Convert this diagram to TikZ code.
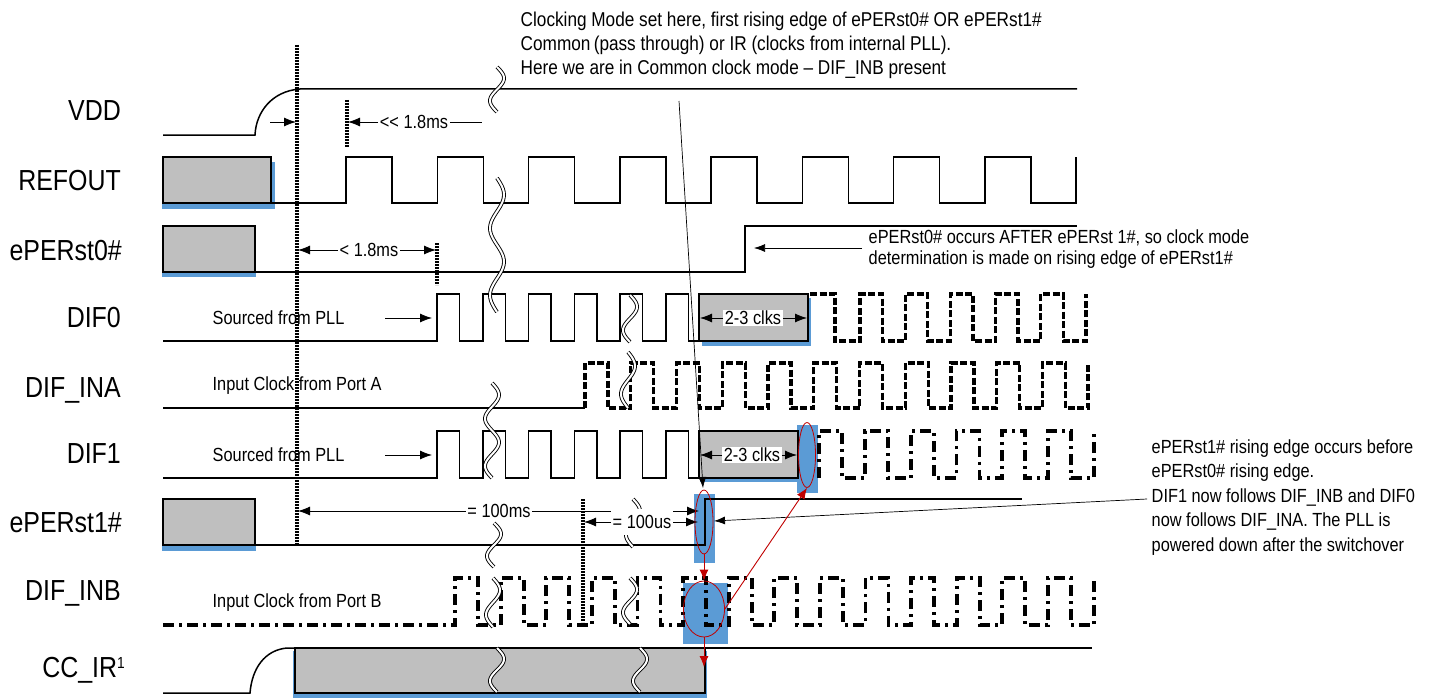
\documentclass[tikz,border=0pt]{standalone}
\usepackage{fontspec}
\setmainfont{Liberation Sans}[FakeStretch=0.86]
\usetikzlibrary{arrows.meta,shapes.geometric}
\definecolor{boxgray}{HTML}{BFBFBF}
\definecolor{hlblue}{HTML}{5B9BD5}
\definecolor{hlred}{HTML}{C00000}
\tikzset{
 sig/.style={line width=1.5pt, line join=miter},
 dsig/.style={line width=3.3pt, dash pattern=on 7pt off 2.5pt},
 ddsig/.style={line width=3.8pt, dash pattern=on 11pt off 5pt on 3pt off 5pt},
 vdot/.style={line width=3.4pt, dash pattern=on 2.3pt off 0.7pt},
 dim/.style={line width=0.8pt, -{Latex[length=12pt,width=9pt]}},
 thinln/.style={line width=0.8pt},
 ptr/.style={line width=0.7pt, -{Latex[length=11pt,width=8pt]}},
 redarr/.style={hlred, line width=0.9pt, -{Latex[length=11pt,width=9pt]}},
 lbl/.style={font=\fontsize{29}{34}\selectfont, anchor=base east, inner sep=0pt},
 txt/.style={font=\fontsize{19}{24}\selectfont, inner sep=1.5pt},
 wv/.style={draw=black, line width=0.9pt, double=white, double distance=2pt},
 graybox/.style={fill=boxgray, draw=black, line width=1.2pt},
 bluebox/.style={fill=hlblue, draw=none},
 hlell/.style={ellipse, draw=hlred, line width=0.8pt, inner sep=0pt},
}
\newcommand\wavybreak[4]{%
 \draw[wv] plot[domain=0:1, samples=50, smooth] ({#1+7*sin(360*#4*\x)}, {#2+(#3-#2)*\x});}
\begin{document}
\begin{tikzpicture}[x=1pt,y=-1pt]
\useasboundingbox (0,0) rectangle (1439,698);

% ---------- labels ----------
\node[lbl] (lvdd) at (121,121) {VDD};
\node[lbl] (lref) at (121,190) {REFOUT};
\node[lbl] (lp0) at (122,260) {ePERst0\#};
\node[lbl] (ldif0) at (121,327) {DIF0};
\node[lbl] (lina) at (121,397) {DIF\_INA};
\node[lbl] (ldif1) at (121,463) {DIF1};
\node[lbl] (lp1) at (122,532) {ePERst1\#};
\node[lbl] (linb) at (121,600) {DIF\_INB};
\node[lbl] (lcc) at (125,677) {CC\_IR{\fontsize{16}{16}\selectfont\raisebox{9pt}{1}}};

% ---------- highlight rectangles (behind waveforms) ----------
\fill[bluebox] (694,494) rectangle (715,563);
\fill[bluebox] (683,583) rectangle (728,644);
\fill[bluebox] (797,425) rectangle (818,493);

% ---------- boxes (gray with blue shadow) ----------
\fill[bluebox] (162,162) rectangle (275,209);
\draw[graybox] (163,157) rectangle (271,203);
\fill[bluebox] (162,229) rectangle (256,277);
\draw[graybox] (163,226) rectangle (255,272);
\fill[bluebox] (162,503) rectangle (256,551);
\draw[graybox] (163,499) rectangle (255,545);
\fill[bluebox] (702,298) rectangle (811,346);
\draw[graybox] (699,294) rectangle (808,341);
\fill[bluebox] (700,435) rectangle (797,482);
\draw[graybox] (699,431) rectangle (798,478);
\fill[bluebox] (293,651) rectangle (707,698);
\draw[graybox] (295,648) rectangle (705,693);

% ---------- waveforms ----------
% VDD
\draw[sig] (163,135) -- (255,135) .. controls (256,112) and (272,91) .. (300,89) -- (1077,89);
% REFOUT
\draw[sig] (271,203) -- (346,203) foreach \k in {0,...,7} { -- ({346+91.25*\k},203) -- ++(0,-46) -- ++(46,0) -- ++(0,46) } -- (1076,203) -- (1076,157);
% ePERst0#
\draw[sig] (255,272) -- (745,272) -- (745,226) -- (1077,226);
% DIF0
\draw[sig] (163,341) foreach \k in {0,...,5} { -- ({437+45.8*\k},341) -- ++(0,-47) -- ++(22.5,0) -- ++(0,47) } -- (699,341);
\draw[dsig] (810,294) -- (835,294) -- (835,341) foreach \k in {0,...,4} { -- ({860+45.2*\k},341) -- ++(0,-47) -- ++(22.5,0) -- ++(0,47) } -- (1086,341) -- (1086,294);
% DIF_INA
\draw[sig] (163,408) -- (585,408);
\draw[dsig] (585,408) foreach \k in {0,...,10} { -- ({585+45.75*\k},408) -- ++(0,-45) -- ++(23,0) -- ++(0,45) } -- (1088,408) -- (1088,363);
% DIF1
\draw[sig] (163,478) foreach \k in {0,...,5} { -- ({437+45.8*\k},478) -- ++(0,-47) -- ++(22.5,0) -- ++(0,47) } -- (699,478);
\draw[ddsig] (819,478) foreach \k in {0,...,5} { -- ({819+45.8*\k},478) -- ++(0,-47) -- ++(23,0) -- ++(0,47) } -- (1094,478) -- (1094,431);
% ePERst1#
\draw[sig] (255,545) -- (705,545) -- (705,499) -- (1022,499);
% DIF_INB
\draw[ddsig] (163,625) foreach \k in {0,...,13} { -- ({455+45.6*\k},625) -- ++(0,-47) -- ++(23,0) -- ++(0,47) } -- (1094,625) -- (1094,578);
% CC_IR
\draw[sig] (163,693) -- (250,693) .. controls (252,668) and (265,650) .. (287,648) -- (295,648);
\draw[sig] (705,648) -- (1092,648);

% ---------- dotted markers ----------
\draw[vdot] (297,45) -- (297,545);
\draw[vdot] (347,100) -- (347,147);
\draw[vdot] (437,243) -- (437,285);
\draw[vdot] (583,499) -- (583,622);

% ---------- wavy breaks ----------
\wavybreak{497}{67}{112}{1}
\wavybreak{497}{178}{312}{2}
\wavybreak{630}{295}{342}{1}
\wavybreak{628}{352}{408}{1}
\wavybreak{492}{383}{478}{2}
\wavybreak{494}{523}{567}{1}
\wavybreak{633}{499}{547}{1}
\wavybreak{493}{578}{627}{1}
\wavybreak{630}{578}{624}{1}
\wavybreak{497}{648}{692}{1}
\wavybreak{640}{648}{692}{1}

% ---------- dimension annotations ----------
\draw[dim] (270,122) -- (296,122);
\node[txt] (t18a) at (414,122) {<{}< 1.8ms};
\draw[dim] (t18a.west) -- (348,122);
\draw[thinln] (t18a.east) -- (482,122);

\node[txt] (t18b) at (369,250) {< 1.8ms};
\draw[dim] (t18b.west) -- (298,250);
\draw[dim] (t18b.east) -- (436,250);

\node[txt, anchor=west] (src0) at (211,318) {Sourced from PLL};
\draw[dim] (385,318) -- (432,318);
\node[txt, anchor=west] (srca) at (211,386) {Input Clock from Port A};
\node[txt, anchor=west] (src1) at (211,455) {Sourced from PLL};
\draw[dim] (385,455) -- (432,455);
\node[txt, anchor=west] (srcb) at (211,603) {Input Clock from Port B};

\node[txt, fill=white] (c0) at (753,318) {2-3 clks};
\draw[dim] (c0.west) -- (700,318);
\draw[dim] (c0.east) -- (807,318);
\node[txt, fill=white] (c1) at (752,455) {2-3 clks};
\draw[dim] (c1.west) -- (700,455);
\draw[dim] (c1.east) -- (797,455);

\node[txt] (t100m) at (499,511) {= 100ms};
\draw[dim] (t100m.west) -- (298,511);
\draw[dim] (t100m.east) -- (699,511);
\node[txt, fill=white, inner ysep=6pt] (t100u) at (642,522) {= 100us};
\draw[dim] (t100u.west) -- (584,522);
\draw[dim] (t100u.east) -- (698,522);

% ---------- notes ----------
\node[txt, anchor=north west, align=left, font=\fontsize{20}{24}\selectfont] (ntop) at (519,10) {Clocking Mode set here, first rising edge of ePERst0\# OR ePERst1\#\\Common\,(pass through) or IR (clocks from internal PLL).\\Here we are in Common clock mode – DIF\_INB present};
\coordinate (ptop) at (679,101);
\draw[ptr] (ptop) -- (703,488);

\node[txt, anchor=north west, align=left, font=\fontsize{19}{21}\selectfont] (n0) at (867,228) {ePERst0\# occurs AFTER ePERst 1\#, so clock mode\\determination is made on rising edge of ePERst1\#};
\coordinate (p0) at (862,248);
\draw[ptr] (p0) -- (754,248);

\node[txt, anchor=north west, align=left, font=\fontsize{19}{24.5}\selectfont] (n1) at (1150,438) {ePERst1\# rising edge occurs before\\ePERst0\# rising edge.\\DIF1 now follows DIF\_INB and DIF0\\now follows DIF\_INA. The PLL is\\powered down after the switchover};
\coordinate (p1) at (1147,499);
\draw[ptr] (p1) -- (714,521);

% ---------- highlight ellipses and red arrows ----------
\node[hlell, minimum width=18pt, minimum height=64pt] (e1) at (704,522) {};
\node[hlell, minimum width=41pt, minimum height=56pt] (e2) at (704,609) {};
\node[hlell, minimum width=17pt, minimum height=65pt] (e3) at (807,455) {};
\coordinate (ccend) at (704,667);
\draw[redarr] (e1.south) -- (e2.north);
\draw[redarr] (e2.south) -- (ccend);
\draw[redarr] (e2.east) -- (e3.south);
\end{tikzpicture}
\end{document}
